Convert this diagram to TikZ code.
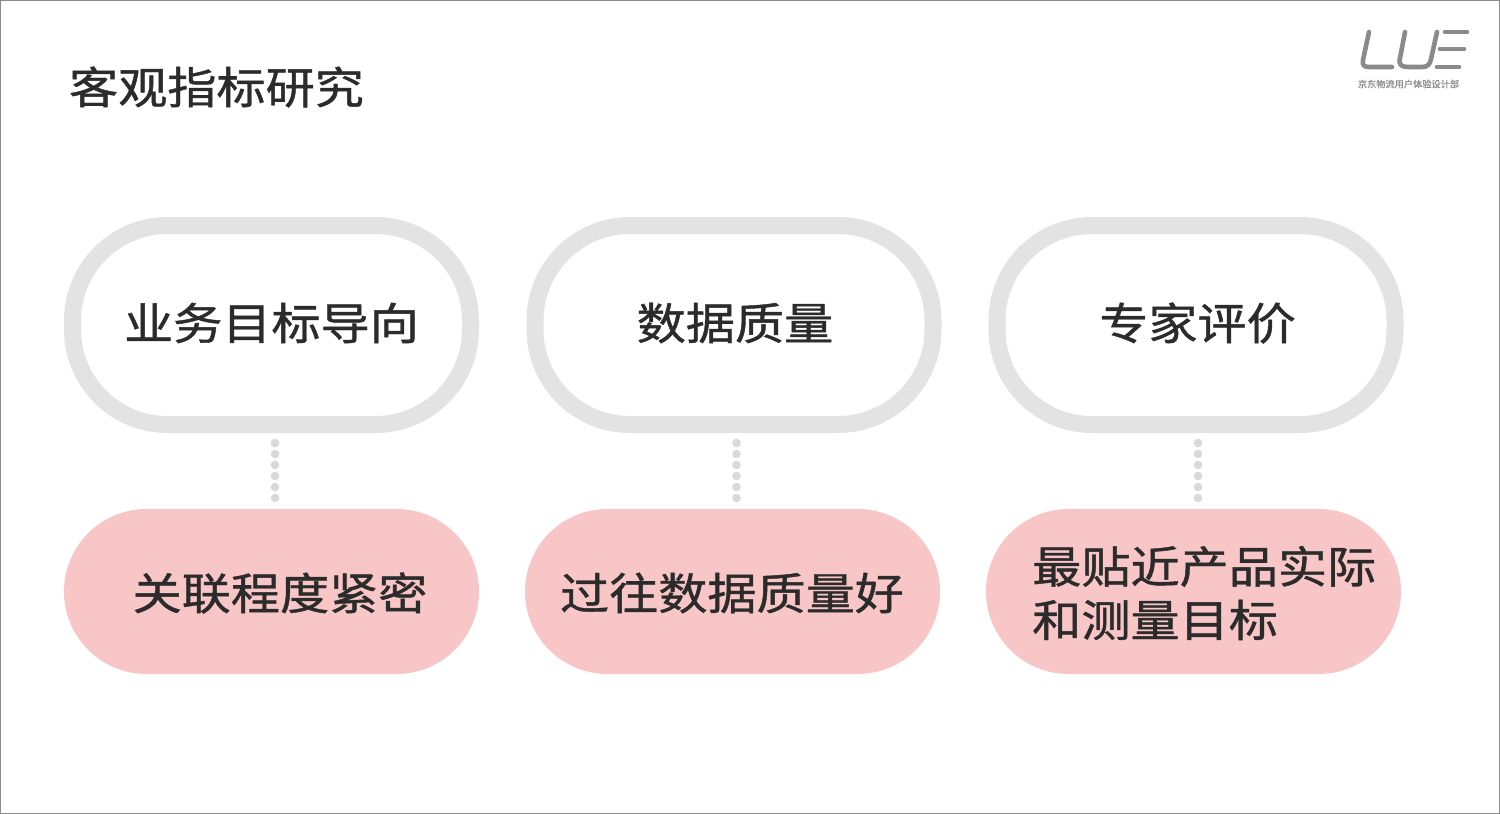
\documentclass[tikz,border=0pt]{standalone}
\usepackage{fontspec}
\setmainfont{Noto Sans CJK SC}
\newfontfamily\cjkmed[FakeBold=1,FakeStretch=1.12]{Noto Sans CJK SC}
\newfontfamily\cjkreg[FakeBold=0.3]{Noto Sans CJK SC}
\definecolor{ring}{HTML}{E3E3E3}
\definecolor{dotc}{HTML}{D9D9D9}
\definecolor{pinkfill}{HTML}{F8C6C6}
\definecolor{ink}{HTML}{2B2B2B}
\definecolor{logoc}{HTML}{8A8A8A}
\tikzset{
  ringpill/.style={draw=ring,line width=17*0.75pt,fill=white,rounded corners=95*0.75pt,minimum width=398*0.75pt,minimum height=199*0.75pt,inner sep=0pt,outer sep=0pt},
  pinkpill/.style={fill=pinkfill,rounded corners=82.5*0.75pt,minimum width=415*0.75pt,minimum height=165*0.75pt,inner sep=0pt,outer sep=0pt},
  label/.style={font=\cjkmed\fontsize{32.9pt}{40pt}\selectfont,text=ink,inner sep=0pt},
  dotline/.style={draw=dotc,line width=8.6*0.75pt,line cap=round,dash pattern=on 0pt off 11*0.75pt,shorten <=18.5*0.75pt,shorten >=10.5*0.75pt},
  logostroke/.style={draw=logoc,line width=4.6*0.75pt,line cap=round,line join=round},
}
\begin{document}
\begin{tikzpicture}[x=0.75pt,y=-0.75pt]
\useasboundingbox (0,0) rectangle (1500,814);
\fill[white] (0,0) rectangle (1500,814);
\draw[color=black!45,line width=1.5*0.75pt] (0.5,0.5) rectangle (1499.5,813.5);
\node[label,anchor=center] (title) at (216.5,87) {客观指标研究};
\node[ringpill] (t1) at (271.5,325) {};
\node[ringpill] (t2) at (734,325) {};
\node[ringpill] (t3) at (1196,325) {};
\node[pinkpill] (b1) at (271.5,591.5) {};
\node[pinkpill] (b2) at (732.5,591.5) {};
\node[pinkpill] (b3) at (1193.5,591.5) {};
\node[label] (lt1) at (271.5,323) {业务目标导向};
\node[label] (lt2) at (735,323) {数据质量};
\node[label] (lt3) at (1197.5,323) {专家评价};
\node[label] (lb1) at (280,593) {关联程度紧密};
\node[label] (lb2) at (732,593) {过往数据质量好};
\node[label,align=left,anchor=west,font=\cjkmed\fontsize{32.9pt}{40.1pt}\selectfont] (lb3) at (1032,593) {最贴近产品实际\\和测量目标};
\draw[dotline] ([xshift=3.5*0.75pt]t1.south) -- ([xshift=3.5*0.75pt]b1.north);
\draw[dotline] ([xshift=2.5*0.75pt]t2.south) -- ([xshift=4*0.75pt]b2.north);
\draw[dotline] ([xshift=2*0.75pt]t3.south) -- ([xshift=4.5*0.75pt]b3.north);
% logo
\draw[logostroke] (1369,32) -- (1363,60) .. controls (1362,65) and (1364,67) .. (1369,67) -- (1392,67);
\draw[logostroke] (1405,32) -- (1400,58) .. controls (1398,65) and (1402,67) .. (1408,67) -- (1422,67) .. controls (1428,67) and (1430,64) .. (1431,59) -- (1437,32);
\draw[logostroke] (1445,32) -- (1467,32);
\draw[logostroke] (1440,49) -- (1464,49);
\draw[logostroke] (1437,67) -- (1459,67);
\node[font=\cjkreg\fontsize{6.9pt}{8pt}\selectfont,text=logoc,inner sep=0pt] (cap) at (1408.5,84) {京东物流用户体验设计部};
\end{tikzpicture}
\end{document}
